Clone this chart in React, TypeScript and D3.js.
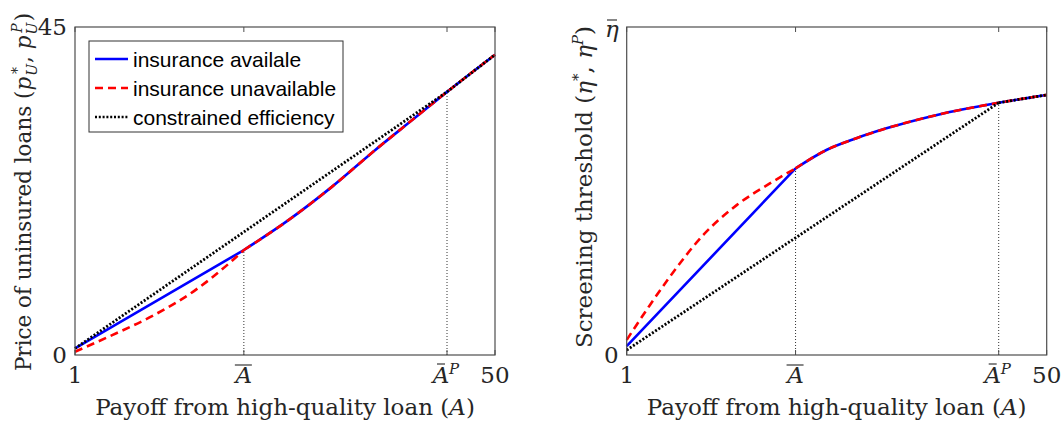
import React from "react";
import * as d3 from "d3";

// ---------- data ----------
const xTickValues = [1, 20.7, 44.4, 50];
const A_BAR = 20.7;
const A_BAR_P = 44.4;

// left panel: price of uninsured loans
const leftInsA = [1, 20.7, 25.9, 31.0, 36.0, 40.3, 44.4, 50];
const leftInsV = [0.9, 14.4, 18.5, 23.1, 28.1, 32.2, 36.1, 41.2];
const leftUninsA = [1, 5.1, 10.1, 14.8, 19.1, 20.7, 25.9, 31.0, 36.0, 40.3, 44.4, 50];
const leftUninsV = [0.45, 2.6, 5.4, 8.7, 12.7, 14.4, 18.5, 23.1, 28.1, 32.2, 36.1, 41.2];
const leftEffA = [1, 44.4, 50];
const leftEffV = [0.9, 36.1, 41.2];

// right panel: screening threshold
const rightInsA = [1, 20.7, 24.3, 27.8, 31.3, 37.2, 44.4, 50];
const rightInsV = [0.027, 0.569, 0.625, 0.661, 0.691, 0.732, 0.769, 0.793];
const rightUninsA = [1, 3.7, 6.05, 9.94, 13.83, 17.7, 20.7, 24.3, 27.8, 31.3, 37.2, 44.4, 50];
const rightUninsV = [0.046, 0.152, 0.239, 0.366, 0.457, 0.523, 0.569, 0.625, 0.661, 0.691, 0.732, 0.769, 0.793];
const rightEffA = [1, 44.4, 50];
const rightEffV = [0.015, 0.769, 0.793];

const legendLabels = ["insurance availale", "insurance unavailable", "constrained efficiency"];

const SERIF = "'DejaVu Serif', 'Liberation Serif', serif";
const SANS = "'Liberation Sans', Arial, sans-serif";
const AXIS_COLOR = "#4d4d4d";
const TEXT_COLOR = "#262626";
const DOT = "2,1.8";

type Pt = [number, number];
const zip = (a: number[], v: number[]): Pt[] => a.map((x, i) => [x, v[i]]);

function splitAt(pts: Pt[], k: number): Pt[][] {
  const i = pts.findIndex((p) => p[0] === k);
  if (i <= 0) return [pts];
  return [pts.slice(0, i + 1), pts.slice(i)];
}

interface PanelProps {
  left: number;
  width: number;
  top: number;
  height: number;
  yMax: number;
  ins: Pt[];
  unins: Pt[];
  eff: Pt[];
  yTopLabel: React.ReactNode;
  yLabel: React.ReactNode;
  yLabelX: number;
  yLabelY: number;
  yLabelSize: number;
  legend?: boolean;
}

function Panel(p: PanelProps) {
  const x = d3.scaleLinear().domain([1, 50]).range([p.left, p.left + p.width]);
  const y = d3.scaleLinear().domain([0, p.yMax]).range([p.top + p.height, p.top]);
  const line = d3
    .line<Pt>()
    .x((d) => x(d[0]))
    .y((d) => y(d[1]))
    .curve(d3.curveMonotoneX);
  const bottom = p.top + p.height;
  const right = p.left + p.width;

  const insAtBar = p.ins.find((d) => d[0] === A_BAR)![1];
  const insAtBarP = p.ins.find((d) => d[0] === A_BAR_P)![1];

  const paths = (pts: Pt[], k: number) =>
    splitAt(pts, k).map((seg) => line(seg) as string).join("");

  const labelY = 383;
  return (
    <g>
      {[
        [A_BAR, insAtBar],
        [A_BAR_P, insAtBarP],
      ].map(([a, v], i) => (
        <line
          key={i}
          x1={x(a)}
          x2={x(a)}
          y1={bottom}
          y2={y(v)}
          stroke="#333"
          strokeWidth={1}
          strokeDasharray="1,2"
        />
      ))}
      <path d={paths(p.ins, A_BAR)} fill="none" stroke="#0000ff" strokeWidth={2.6} />
      <path
        d={paths(p.unins, A_BAR)}
        fill="none"
        stroke="#ff0000"
        strokeWidth={2.6}
        strokeDasharray="8,5"
      />
      <path
        d={paths(p.eff, A_BAR_P)}
        fill="none"
        stroke="#000"
        strokeWidth={2.8}
        strokeDasharray={DOT}
      />
      <rect x={p.left} y={p.top} width={p.width} height={p.height} fill="none" stroke={AXIS_COLOR} strokeWidth={1.2} />
      {xTickValues.map((t, i) => (
        <g key={i}>
          <line x1={x(t)} x2={x(t)} y1={bottom} y2={bottom - 5} stroke={AXIS_COLOR} strokeWidth={1} />
          <line x1={x(t)} x2={x(t)} y1={p.top} y2={p.top + 5} stroke={AXIS_COLOR} strokeWidth={1} />
        </g>
      ))}
      <g fontFamily={SERIF} fontSize={23} fill={TEXT_COLOR}>
        <text x={x(1)} y={labelY} textAnchor="middle">1</text>
        <text x={x(A_BAR)} y={labelY} textAnchor="middle" fontStyle="italic">A</text>
        <line x1={x(A_BAR) - 9} x2={x(A_BAR) + 8} y1={365} y2={365} stroke={TEXT_COLOR} strokeWidth={1.1} />
        <text x={x(A_BAR_P) - 6} y={labelY} textAnchor="middle" fontStyle="italic">A</text>
        <line x1={x(A_BAR_P) - 10} x2={x(A_BAR_P) - 2} y1={364} y2={364} stroke={TEXT_COLOR} strokeWidth={1.1} />
        <text x={x(A_BAR_P) + 2} y={labelY - 9} fontSize={15} fontStyle="italic">P</text>
        <text x={x(50)} y={labelY} textAnchor="middle">50</text>
        <text x={(p.left + right) / 2} y={415} textAnchor="middle">
          Payoff from high-quality loan (<tspan fontStyle="italic">A</tspan>)
        </text>
      </g>
      <g fontFamily={SERIF} fontSize={23} fill={TEXT_COLOR}>
        <text x={p.left - 8} y={bottom + 8} textAnchor="end">0</text>
        {p.yTopLabel}
      </g>
      <text
        transform={`translate(${p.yLabelX},${p.yLabelY}) rotate(-90)`}
        textAnchor="middle"
        fontFamily={SERIF}
        fontSize={p.yLabelSize}
        fill={TEXT_COLOR}
      >
        {p.yLabel}
      </text>
      {p.legend && (
        <g>
          <rect x={89} y={41} width={254} height={91} fill="#fff" stroke="#333" strokeWidth={1} />
          {legendLabels.map((lab, i) => {
            const cy = 59 + i * 29;
            const style =
              i === 0
                ? { stroke: "#0000ff" }
                : i === 1
                ? { stroke: "#ff0000", strokeDasharray: "8,5" }
                : { stroke: "#000", strokeDasharray: DOT };
            return (
              <g key={i}>
                <line x1={95} x2={128} y1={cy} y2={cy} strokeWidth={2.6} {...style} />
                <text x={133} y={cy + 7.5} fontFamily={SANS} fontSize={21} fill="#000">
                  {lab}
                </text>
              </g>
            );
          })}
        </g>
      )}
    </g>
  );
}

export default function App() {
  const top = 27;
  const height = 328;
  return (
    <svg
      width={1063}
      height={430}
      style={{ position: "absolute", left: 0, top: 0, background: "#fff" }}
    >
      <Panel
        left={75}
        width={420}
        top={top}
        height={height}
        yMax={45}
        ins={zip(leftInsA, leftInsV)}
        unins={zip(leftUninsA, leftUninsV)}
        eff={zip(leftEffA, leftEffV)}
        yTopLabel={<text x={67} y={35} textAnchor="end">45</text>}
        yLabelX={31}
        yLabelY={192}
        yLabelSize={21.5}
        legend
        yLabel={
          <>
            Price of uninsured loans (
            <tspan fontStyle="italic">p</tspan>
            <tspan fontSize={14} fontStyle="italic" dx={1} dy={6}>U</tspan>
            <tspan fontSize={14} dx={-10} dy={-15}>*</tspan>
            <tspan dx={4} dy={9}>, </tspan>
            <tspan fontStyle="italic">p</tspan>
            <tspan fontSize={14} fontStyle="italic" dx={1} dy={6}>U</tspan>
            <tspan fontSize={14} fontStyle="italic" dx={-10} dy={-15}>P</tspan>
            <tspan dx={2} dy={9}>)</tspan>
          </>
        }
      />
      <Panel
        left={626.7}
        width={420}
        top={top}
        height={height}
        yMax={1}
        ins={zip(rightInsA, rightInsV)}
        unins={zip(rightUninsA, rightUninsV)}
        eff={zip(rightEffA, rightEffV)}
        yTopLabel={
          <g>
            <text x={612} y={37} textAnchor="middle" fontStyle="italic">η</text>
            <line x1={607} x2={617} y1={20} y2={20} stroke={TEXT_COLOR} strokeWidth={1.1} />
          </g>
        }
        yLabelX={592}
        yLabelY={187}
        yLabelSize={23}
        yLabel={
          <>
            Screening threshold (
            <tspan fontStyle="italic">η</tspan>
            <tspan fontSize={15} dy={-9}>*</tspan>
            <tspan dy={9}>, </tspan>
            <tspan fontStyle="italic">η</tspan>
            <tspan fontSize={15} fontStyle="italic" dy={-9}>P</tspan>
            <tspan dy={9}>)</tspan>
          </>
        }
      />
    </svg>
  );
}
